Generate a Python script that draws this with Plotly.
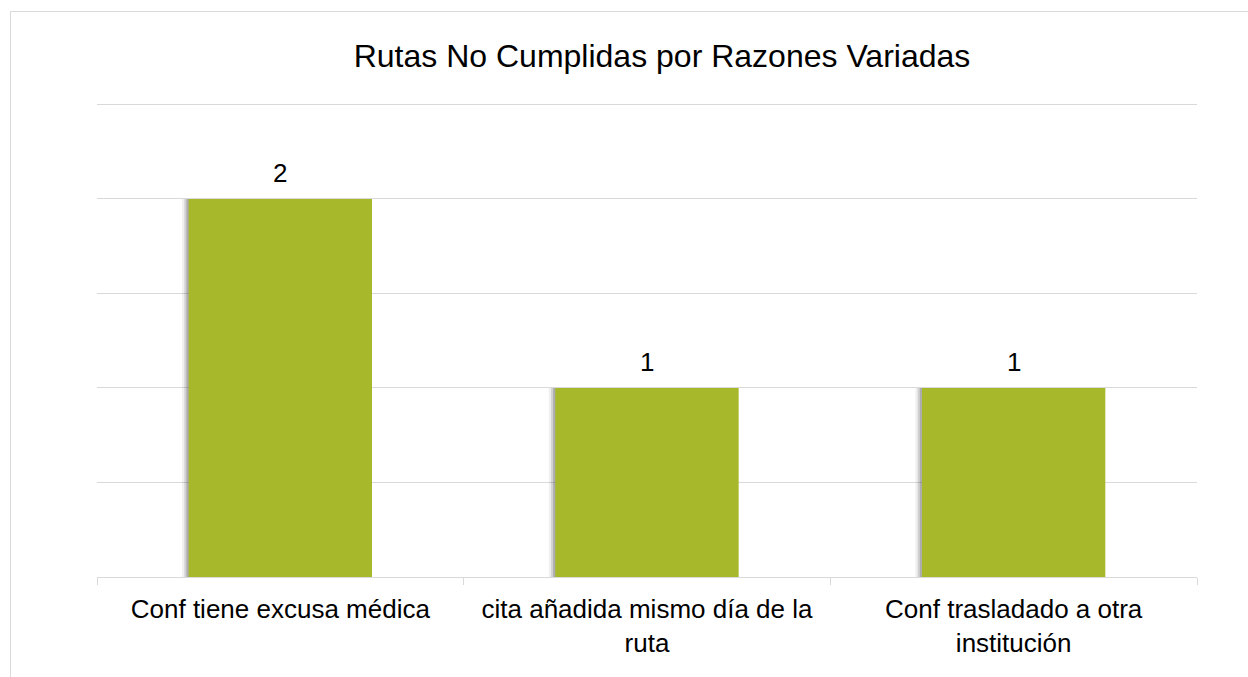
import plotly.graph_objects as go

categories = ["Conf tiene excusa médica", "cita añadida mismo día de la<br>ruta", "Conf trasladado a otra<br>institución"]
values = [2, 1, 1]
value_labels = ["2", "1", "1"]
title_text = "Rutas No Cumplidas por Razones Variadas"

W, H = 1248, 677
L, R, T, B = 97, 51, 95, 100
Y_MAX = 2.55
pw, ph = W - L - R, H - T - B
FONT = "Liberation Sans, Arial"

fig = go.Figure()
# soft shadow behind bars (layers)
fig.add_trace(go.Bar(x=categories, y=values, width=0.5, offset=-0.268,
                     marker=dict(color="rgba(0,0,0,0.06)", line=dict(width=0)),
                     hoverinfo="skip", showlegend=False))
fig.add_trace(go.Bar(x=categories, y=values, width=0.5, offset=-0.262,
                     marker=dict(color="rgba(0,0,0,0.12)", line=dict(width=0)),
                     hoverinfo="skip", showlegend=False))
fig.add_trace(go.Bar(x=categories, y=values, width=0.5, offset=-0.256,
                     marker=dict(color="rgba(0,0,0,0.18)", line=dict(width=0)),
                     hoverinfo="skip", showlegend=False))
fig.add_trace(go.Bar(x=categories, y=values, width=0.5, offset=-0.25,
                     marker=dict(color="#A7B92B", line=dict(width=0)),
                     showlegend=False))

annotations = [dict(x=c, y=v, text=t, xref="x", yref="y", showarrow=False,
                    yanchor="bottom", yshift=9,
                    font=dict(family=FONT, size=26, color="#000000"))
               for c, v, t in zip(categories, values, value_labels)]

def px_x(px):
    return (px - L) / pw

def px_y(py):
    return (H - B - py) / ph

fig.update_layout(
    width=W, height=H,
    margin=dict(l=L, r=R, t=T, b=B),
    paper_bgcolor="white", plot_bgcolor="white",
    barmode="overlay",
    font=dict(family=FONT, color="#000000"),
    title=dict(text=title_text, x=662 / W, xanchor="center",
               y=1 - 56 / H, yanchor="middle",
               font=dict(size=32, color="#000000", family=FONT)),
    xaxis=dict(showline=True, linecolor="#d9d9d9", linewidth=1,
               ticks="outside", tickson="boundaries", ticklen=7, tickcolor="#d9d9d9",
               ticklabelstandoff=9,
               tickfont=dict(size=26, color="#000000"), showgrid=False, fixedrange=True),
    yaxis=dict(range=[0, Y_MAX], tick0=0, dtick=0.5, showgrid=True, gridcolor="#d9d9d9", gridwidth=1,
               showticklabels=False, zeroline=False, showline=False, fixedrange=True),
    annotations=annotations,
    shapes=[dict(type="rect", xref="paper", yref="paper",
                 x0=px_x(10.5), x1=px_x(1300), y0=px_y(720), y1=px_y(11.5),
                 line=dict(color="#d9d9d9", width=1), layer="below")],
)

fig.write_html("out.html", config={"displayModeBar": False},
               post_script="document.body.style.margin='0';")
